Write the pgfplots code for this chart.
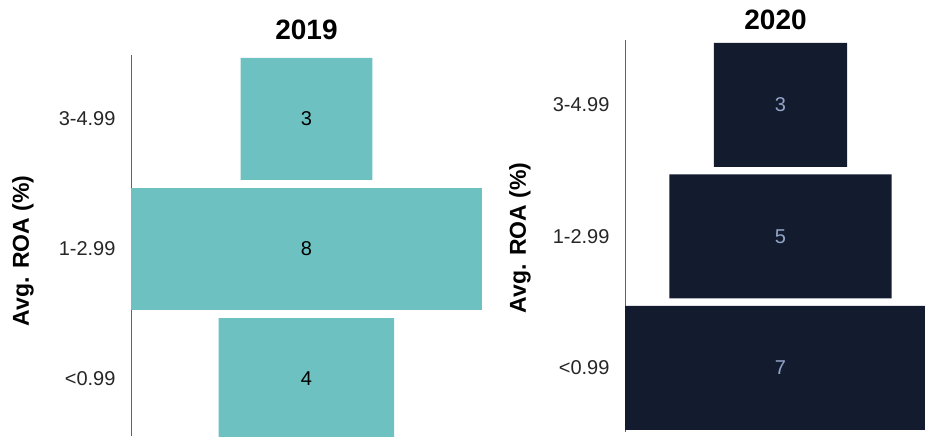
\documentclass[border=0pt]{standalone}
\usepackage{pgfplots}
\pgfplotsset{compat=1.18}
\usepackage{pgfplotstable}
\usepackage{fontspec}
\setmainfont{Liberation Sans}
\definecolor{teal19}{HTML}{6DC2C1}
\definecolor{navy20}{HTML}{131C2E}
\definecolor{lbl20}{HTML}{93A4C8}
\definecolor{axisgray}{HTML}{5B6270}

% y: 0 = <0.99, 1 = 1-2.99, 2 = 3-4.99
\pgfplotstableread{
y n
0 4
1 8
2 3
}\tabA
\pgfplotstableread{
y n
0 7
1 5
2 3
}\tabB

\pgfplotsset{funnel/.style={
  scale only axis, axis x line=none, axis y line*=left,
  y axis line style={axisgray,line width=1pt,-},
  ytick={0,1,2}, yticklabels={<0.99,1-2.99,3-4.99},
  major tick length=0pt, yticklabel style={font=\fontsize{20}{24}\selectfont,color=black!85,xshift=-12pt},
  /pgf/number format/assume math mode=true,
  xbar stacked, stack negative=on previous, clip=true,
  ylabel={Avg. ROA (\%)},
  ylabel style={font=\bfseries\fontsize{23}{27}\selectfont,rotate=0,anchor=center},
  title style={font=\bfseries\fontsize{28}{32}\selectfont,anchor=center},
}}

\begin{document}
\begin{tikzpicture}
\useasboundingbox (0pt,0pt) rectangle (925pt,436pt);
\begin{axis}[funnel, at={(131pt,0pt)}, anchor=south west, width=351pt, height=381pt,
  xmin=-4, xmax=4, ymin=-0.438, ymax=2.492, bar width=0.938,
  ylabel style={at={(axis description cs:-0.308,0.486)}},
  title={2019}, title style={at={(axis description cs:0.5,1.051)}}]
% invisible offset, then the visible bar centred on 0
\addplot[draw=none, fill=none] table[x expr=-\thisrow{n}/2, y=y] {\tabA};
\addplot[fill=teal19, draw=none, nodes near coords, point meta=explicit,
  every node near coord/.style={font=\fontsize{20}{24}\selectfont,color=black,anchor=center}]
  table[x=n, y=y, meta=n] {\tabA};
\end{axis}
% the right edge of this axis runs past the page, as in the reference
\begin{axis}[funnel, at={(625pt,4pt)}, anchor=south west, width=311pt, height=392pt,
  xmin=-3.5, xmax=3.5, ymin=-0.487, ymax=2.494, bar width=0.943,
  ylabel style={at={(axis description cs:-0.338,0.495)}},
  title={2020}, title style={at={(axis description cs:0.484,1.036)}}]
\addplot[draw=none, fill=none] table[x expr=-\thisrow{n}/2, y=y] {\tabB};
\addplot[fill=navy20, draw=none, nodes near coords, point meta=explicit,
  every node near coord/.style={font=\fontsize{20}{24}\selectfont,color=lbl20,anchor=center}]
  table[x=n, y=y, meta=n] {\tabB};
\end{axis}
\end{tikzpicture}
\end{document}
